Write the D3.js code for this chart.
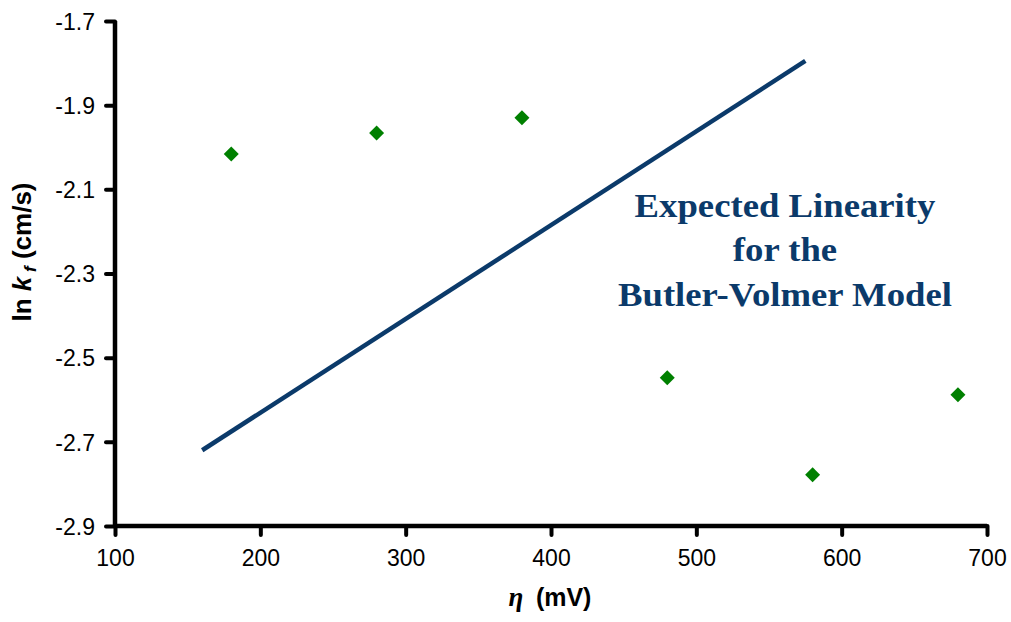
<!DOCTYPE html>
<html>
<head>
<meta charset="utf-8">
<script src="https://cdn.jsdelivr.net/npm/d3@7"></script>
<style>
  body { margin: 0; background: #fff; }
  .tick text { font-family: Arial, "Liberation Sans", sans-serif; font-size: 23px; fill: #000; }
</style>
</head>
<body>
<svg id="chart" width="1011" height="622"></svg>
<script>
// measured points
const eta = [180, 280, 380, 480, 580, 680];
const lnKf = [-2.016, -1.966, -1.93, -2.548, -2.778, -2.588];

// expected Butler-Volmer line (end points)
const lineEta = [160, 575];
const lineLnKf = [-2.72, -1.795];

const xTicks = [100, 200, 300, 400, 500, 600, 700];
const yTicks = [-1.7, -1.9, -2.1, -2.3, -2.5, -2.7, -2.9];
const noteLines = ["Expected Linearity", "for the", "Butler-Volmer Model"];

const svg = d3.select("#chart");
const plotLeft = 115, plotRight = 987, plotTop = 21, plotBottom = 526;

const x = d3.scaleLinear().domain([100, 700]).range([plotLeft, plotRight]);
const y = d3.scaleLinear().domain([-2.9, -1.7]).range([plotBottom, plotTop]);

const navy = "#0b3a6a";

// axes
const xAxis = svg.append("g")
  .attr("transform", `translate(0,${plotBottom})`)
  .call(d3.axisBottom(x).tickValues(xTicks).tickSize(9).tickPadding(15).tickFormat(d3.format("d")));
const yAxis = svg.append("g")
  .attr("transform", `translate(${plotLeft},0)`)
  .call(d3.axisLeft(y).tickValues(yTicks).tickSize(9).tickPadding(11)
    .tickFormat(d => d.toFixed(1)));   // plain hyphen, not unicode minus

[xAxis, yAxis].forEach(a => {
  a.select(".domain").attr("stroke", "#000").attr("stroke-width", 4.5).attr("d",
    a === xAxis ? `M${plotLeft},0H${plotRight}` : `M0,${plotBottom}V${plotTop}`);
  a.selectAll(".tick line").attr("stroke", "#000").attr("stroke-width", 4).attr("stroke-linecap", "round");
});
yAxis.selectAll(".tick text").attr("dy", "0.36em");

// expected line
svg.append("path")
  .datum(lineEta.map((e, i) => [e, lineLnKf[i]]))
  .attr("fill", "none")
  .attr("stroke", navy)
  .attr("stroke-width", 4.5)
  .attr("d", d3.line().x(d => x(d[0])).y(d => y(d[1])));

// markers
svg.append("g").selectAll("path")
  .data(eta.map((e, i) => [e, lnKf[i]]))
  .join("path")
  .attr("transform", d => `translate(${x(d[0])},${y(d[1])}) rotate(45)`)
  .attr("d", "M-5.3,-5.3H5.3V5.3H-5.3Z")
  .attr("fill", "#008000");

// annotation (source font is a bit wider than Liberation Serif, so stretch it)
svg.append("g")
  .attr("transform", "translate(785,217) scale(1.08,1)")
  .append("text")
  .attr("text-anchor", "middle")
  .attr("font-family", "'Times New Roman', 'Liberation Serif', serif")
  .attr("font-weight", "bold")
  .attr("font-size", 34)
  .attr("fill", navy)
  .selectAll("tspan")
  .data(noteLines)
  .join("tspan")
  .attr("x", 0)
  .attr("dy", (d, i) => i === 0 ? 0 : 44.5)
  .text(d => d);

// axis titles
const yTitle = svg.append("text")
  .attr("transform", "translate(31,252) rotate(-90)")
  .attr("text-anchor", "middle")
  .attr("font-family", "Arial, 'Liberation Sans', sans-serif")
  .attr("font-weight", "bold")
  .attr("font-size", 26);
yTitle.append("tspan").text("ln ");
yTitle.append("tspan").attr("font-style", "italic").text("k");
yTitle.append("tspan").attr("font-style", "italic").attr("font-size", 17).attr("dy", 5).text(" f");
yTitle.append("tspan").attr("dy", -5).text(" (cm/s)");

const xTitle = svg.append("text")
  .attr("x", 550)
  .attr("y", 606)
  .attr("text-anchor", "middle")
  .attr("font-family", "Arial, 'Liberation Sans', sans-serif")
  .attr("font-weight", "bold")
  .attr("font-size", 25);
xTitle.append("tspan").attr("font-style", "italic").attr("font-family", "'Times New Roman', 'Liberation Serif', serif").attr("font-size", 27).text("η");
xTitle.append("tspan").attr("xml:space", "preserve").text("\u2002(mV)");
</script>
</body>
</html>
